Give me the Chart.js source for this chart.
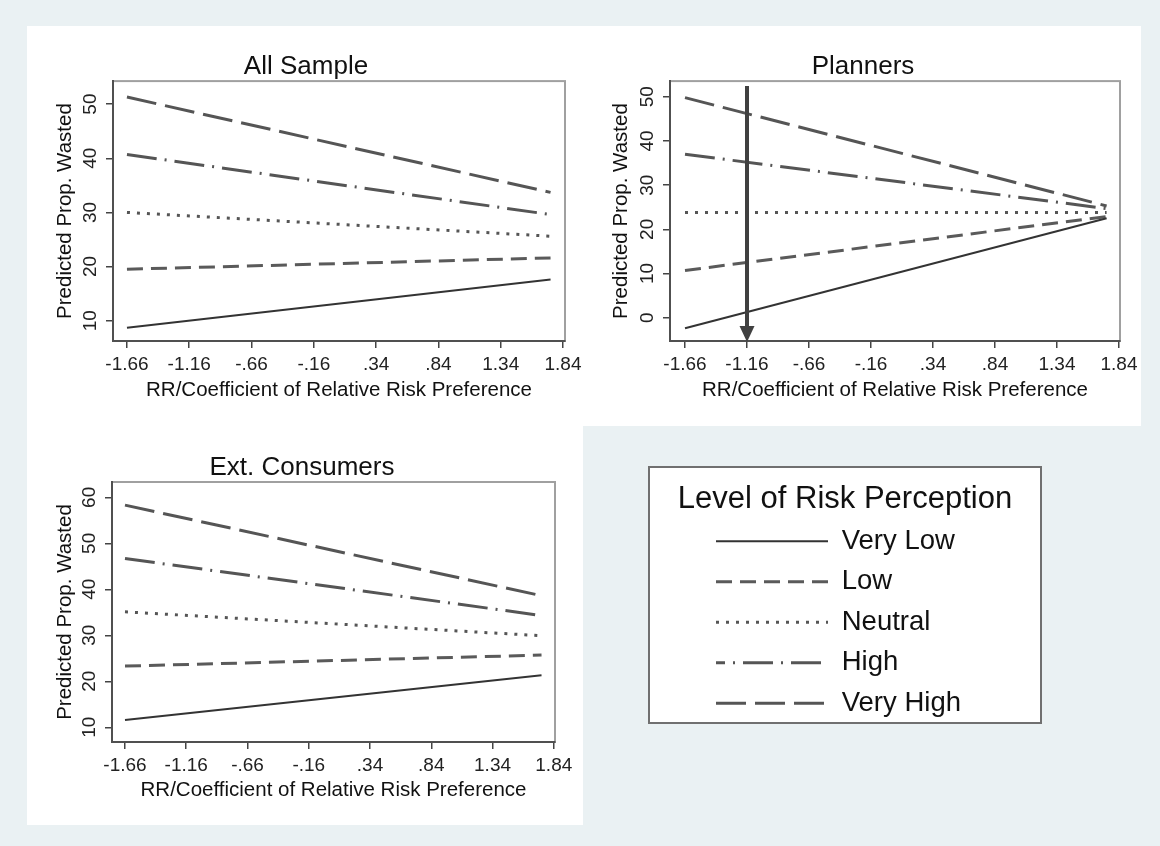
<!DOCTYPE html>
<html><head><meta charset="utf-8">
<script src="https://cdn.jsdelivr.net/npm/chart.js@4.4.1/dist/chart.umd.min.js"></script>
<style>
html,body{margin:0;padding:0;}
body{width:1160px;height:846px;background:#eaf1f3;position:relative;overflow:hidden;font-family:"Liberation Sans",Arial,sans-serif;}
.w{position:absolute;background:#fff;}
.c{position:absolute;}
#legbox{position:absolute;left:648px;top:466px;width:390px;height:254px;background:#fff;border:2px solid #707070;}
</style></head><body>
<div class="w" style="left:27px;top:26px;width:1114px;height:400px"></div>
<div class="w" style="left:27px;top:426px;width:556px;height:399px"></div>
<div id="legbox"></div>
<div class="c" style="left:27px;top:26px;width:556px;height:400px"><canvas id="c1"></canvas></div>
<div class="c" style="left:583px;top:26px;width:558px;height:400px"><canvas id="c2"></canvas></div>
<div class="c" style="left:27px;top:426px;width:556px;height:400px"><canvas id="c3"></canvas></div>
<div class="c" style="left:650px;top:468px;width:390px;height:300px"><canvas id="c4"></canvas></div>
<script>
// ---- data ----
const xTicks = [-1.66, -1.16, -0.66, -0.16, 0.34, 0.84, 1.34, 1.84];
const xTickLabels = ['-1.66', '-1.16', '-.66', '-.16', '.34', '.84', '1.34', '1.84'];
const xPoints = [-1.66, 1.74];
const seriesNames = ['Very Low', 'Low', 'Neutral', 'High', 'Very High'];

const allVeryLow = [8.7, 17.6];
const allLow = [19.5, 21.6];
const allNeutral = [30.0, 25.6];
const allHigh = [40.7, 29.6];
const allVeryHigh = [51.3, 33.7];

const planVeryLow = [-2.4, 22.5];
const planLow = [10.7, 22.9];
const planNeutral = [23.8, 23.8];
const planHigh = [37.0, 24.7];
const planVeryHigh = [49.8, 25.3];

const extVeryLow = [11.6, 21.3];
const extLow = [23.3, 25.7];
const extNeutral = [35.1, 29.9];
const extHigh = [46.7, 34.3];
const extVeryHigh = [58.3, 38.6];

const allYTicks = [10, 20, 30, 40, 50];
const planYTicks = [0, 10, 20, 30, 40, 50];
const extYTicks = [10, 20, 30, 40, 50, 60];
const arrowX = -1.16;

// ---- styles ----
const FF = "'Liberation Sans', Arial, Helvetica, sans-serif";
const STY = [
  {borderColor: '#333333', borderWidth: 2, borderDash: []},
  {borderColor: '#5a5a5a', borderWidth: 3, borderDash: [16, 8]},
  {borderColor: '#555555', borderWidth: 3, borderDash: [3, 7]},
  {borderColor: '#555555', borderWidth: 3, borderDash: [30, 8, 2, 8]},
  {borderColor: '#555555', borderWidth: 3, borderDash: [30, 9]}
];

const boxPlugin = {
  id: 'box',
  beforeDraw(chart) {
    const {ctx, chartArea: a} = chart;
    ctx.save();
    ctx.strokeStyle = '#a0a0a0';
    ctx.lineWidth = 2;
    ctx.strokeRect(a.left, a.top, a.right - a.left, a.bottom - a.top);
    ctx.restore();
  }
};

// centre the panel title on a chosen x within the canvas
const titleCenter = {
  id: 'titleCenter',
  afterLayout(chart, args, opts) {
    const tb = chart.titleBlock;
    if (!tb || opts.cx === undefined) return;
    tb.left = opts.cx - 220;
    tb.right = opts.cx + 220;
    tb.width = 440;
  }
};

const arrowPlugin = {
  id: 'arrow',
  afterDatasetsDraw(chart) {
    const {ctx, chartArea: a, scales: {x}} = chart;
    const px = x.getPixelForValue(arrowX);
    const top = a.top + 5, tip = a.bottom + 1, headH = 16, headW = 15;
    ctx.save();
    ctx.strokeStyle = '#404040';
    ctx.fillStyle = '#404040';
    ctx.lineWidth = 4;
    ctx.setLineDash([]);
    ctx.beginPath();
    ctx.moveTo(px, top);
    ctx.lineTo(px, tip - headH + 2);
    ctx.stroke();
    ctx.beginPath();
    ctx.moveTo(px - headW / 2, tip - headH);
    ctx.lineTo(px + headW / 2, tip - headH);
    ctx.lineTo(px, tip);
    ctx.closePath();
    ctx.fill();
    ctx.restore();
  }
};

function axisCommon() {
  return {
    grid: {display: true, drawOnChartArea: false, drawTicks: true, tickLength: 7, color: '#444', lineWidth: 1.5},
    border: {display: true, color: '#505050', width: 2}
  };
}

function panel(id, title, series, yTicks, g, extra) {
  return new Chart(document.getElementById(id), {
    type: 'line',
    data: {
      datasets: series.map((vals, k) => Object.assign({
        label: seriesNames[k],
        data: xPoints.map((x, i) => ({x: x, y: vals[i]})),
        pointRadius: 0, tension: 0, fill: false, borderCapStyle: 'butt'
      }, STY[k]))
    },
    options: {
      responsive: true, maintainAspectRatio: false, animation: false, events: [],
      layout: {padding: {left: 0, top: 0, right: g.padR, bottom: 0}},
      plugins: {
        legend: {display: false}, tooltip: {enabled: false},
        title: {display: true, text: title, color: '#111',
                font: {family: FF, size: 26, weight: 'normal', lineHeight: 1.1},
                padding: {top: g.tTop, bottom: 0}},
        titleCenter: {cx: g.tCx}
      },
      scales: {
        x: Object.assign(axisCommon(), {
          type: 'linear', min: g.xMin, max: g.xMax,
          afterBuildTicks: s => { s.ticks = xTicks.map(v => ({value: v})); },
          afterFit: s => { s.height = g.xH; s.paddingLeft = 0; s.paddingRight = 0; },
          ticks: {callback: (v, i) => xTickLabels[i], color: '#222', font: {family: FF, size: 19},
                  padding: 5, maxRotation: 0, minRotation: 0, autoSkip: false},
          title: {display: true, text: 'RR/Coefficient of Relative Risk Preference', color: '#111',
                  font: {family: FF, size: 20.5}, padding: {top: 0, bottom: 23}}
        }),
        y: Object.assign(axisCommon(), {
          type: 'linear', min: g.yMin, max: g.yMax,
          afterBuildTicks: s => { s.ticks = yTicks.map(v => ({value: v})); },
          afterFit: s => { s.width = g.yW; s.paddingTop = 0; s.paddingBottom = 0; },
          ticks: {callback: v => String(v), color: '#222', font: {family: FF, size: 19},
                  padding: 5, minRotation: 90, maxRotation: 90, crossAlign: 'center', autoSkip: false},
          title: {display: true, text: 'Predicted Prop. Wasted', color: '#111',
                  font: {family: FF, size: 20.5}, padding: {top: 26, bottom: 0}}
        })
      }
    },
    plugins: [boxPlugin, titleCenter].concat(extra || [])
  });
}

panel('c1', 'All Sample', [allVeryLow, allLow, allNeutral, allHigh, allVeryHigh], allYTicks,
  {padR: 18, tTop: 26.5, tCx: 279, xH: 85, yW: 86, xMin: -1.772, xMax: 1.856, yMin: 6.25, yMax: 54.25});
panel('c2', 'Planners', [planVeryLow, planLow, planNeutral, planHigh, planVeryHigh], planYTicks,
  {padR: 21, tTop: 26.5, tCx: 280, xH: 85, yW: 87, xMin: -1.781, xMax: 1.848, yMin: -5.27, yMax: 53.55}, [arrowPlugin]);
panel('c3', 'Ext. Consumers', [extVeryLow, extLow, extNeutral, extHigh, extVeryHigh], extYTicks,
  {padR: 28, tTop: 27.4, tCx: 275, xH: 84, yW: 85, xMin: -1.766, xMax: 1.85, yMin: 6.8, yMax: 63.33});

// legend chart: shift the item column to the right inside the box
const LEG_INDENT = 53;
const legendShift = {
  id: 'legendShift',
  afterLayout(chart) {
    const L = chart.legend;
    L.left += LEG_INDENT;
    L.right -= LEG_INDENT;
    L.width = L.right - L.left;
  }
};

new Chart(document.getElementById('c4'), {
  type: 'line',
  data: {datasets: seriesNames.map((n, k) => Object.assign({label: n, data: [], pointRadius: 0}, STY[k]))},
  options: {
    responsive: true, maintainAspectRatio: false, animation: false, events: [],
    layout: {padding: 0},
    scales: {x: {display: false}, y: {display: false}},
    plugins: {
      tooltip: {enabled: false},
      title: {display: true, text: 'Level of Risk Perception', color: '#111',
              font: {family: FF, size: 31, weight: 'normal', lineHeight: 1.0}, padding: {top: 15.5, bottom: 0}},
      legend: {
        display: true, position: 'top', align: 'start', maxHeight: 400,
        labels: {
          usePointStyle: true, pointStyle: 'line', pointStyleWidth: 112, color: '#111',
          font: {family: FF, size: 27.5}, padding: 13,
          generateLabels: chart => chart.data.datasets.map((d, i) => ({
            text: d.label, strokeStyle: d.borderColor, fillStyle: d.borderColor,
            lineWidth: d.borderWidth, lineDash: d.borderDash, lineDashOffset: i === 3 ? 21 : 0,
            lineCap: 'butt', pointStyle: 'line', fontColor: '#111', hidden: false, datasetIndex: i
          }))
        }
      }
    }
  },
  plugins: [legendShift]
});
</script>
</body></html>
